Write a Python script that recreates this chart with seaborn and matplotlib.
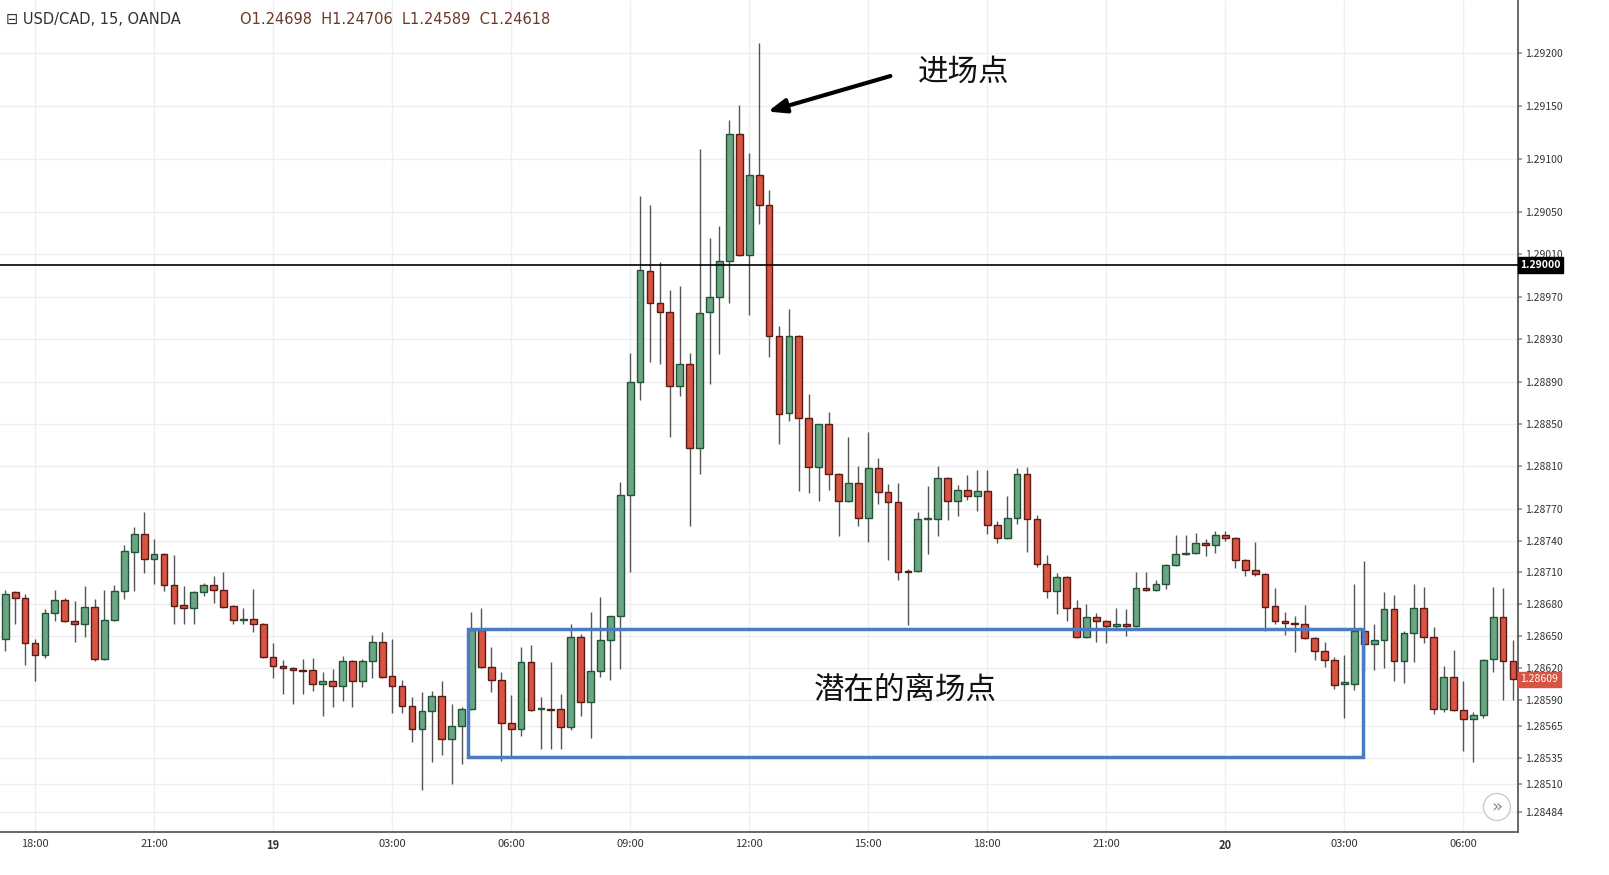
import matplotlib
matplotlib.use("Agg")
import matplotlib.pyplot as plt
import seaborn as sns
import numpy as np
from matplotlib.patches import Rectangle

opens = [1.28647,1.28691,1.28686,1.28643,1.28632,1.28672,1.28684,1.28664,1.28661,1.28677,
 1.28628,1.28665,1.28692,1.28729,1.28746,1.28723,1.28727,1.28698,1.28679,1.28676,
 1.28691,1.28698,1.28693,1.28678,1.28665,1.28666,1.28661,1.28630,1.28622,1.28620,
 1.28618,1.28618,1.28605,1.28607,1.28603,1.28626,1.28607,1.28626,1.28644,1.28612,
 1.28603,1.28584,1.28562,1.28579,1.28593,1.28553,1.28565,1.28581,1.28656,1.28621,
 1.28608,1.28568,1.28562,1.28625,1.28581,1.28581,1.28581,1.28564,1.28649,1.28588,
 1.28617,1.28646,1.28669,1.28783,1.28890,1.28994,1.28964,1.28956,1.28886,1.28907,
 1.28827,1.28956,1.28970,1.29004,1.29124,1.29009,1.29085,1.29057,1.28933,1.28860,
 1.28933,1.28856,1.28809,1.28850,1.28803,1.28777,1.28794,1.28761,1.28808,1.28786,
 1.28776,1.28711,1.28711,1.28760,1.28760,1.28799,1.28777,1.28788,1.28782,1.28787,
 1.28755,1.28742,1.28761,1.28803,1.28760,1.28718,1.28692,1.28706,1.28676,1.28649,
 1.28668,1.28664,1.28659,1.28661,1.28659,1.28695,1.28693,1.28699,1.28717,1.28727,
 1.28728,1.28738,1.28736,1.28745,1.28742,1.28722,1.28712,1.28708,1.28678,1.28664,
 1.28662,1.28661,1.28648,1.28636,1.28627,1.28605,1.28605,1.28655,1.28642,1.28646,
 1.28675,1.28626,1.28653,1.28676,1.28649,1.28581,1.28611,1.28580,1.28572,1.28575,
 1.28628,1.28668,1.28626]
highs = [1.28693,1.28692,1.28690,1.28647,1.28675,1.28693,1.28686,1.28683,1.28697,1.28685,
 1.28693,1.28698,1.28736,1.28753,1.28767,1.28741,1.28728,1.28726,1.28697,1.28692,
 1.28700,1.28707,1.28710,1.28679,1.28676,1.28694,1.28662,1.28643,1.28627,1.28621,
 1.28628,1.28629,1.28616,1.28619,1.28631,1.28627,1.28628,1.28651,1.28654,1.28647,
 1.28608,1.28592,1.28597,1.28598,1.28607,1.28586,1.28583,1.28673,1.28676,1.28640,
 1.28616,1.28594,1.28640,1.28641,1.28592,1.28625,1.28595,1.28661,1.28652,1.28673,
 1.28687,1.28669,1.28795,1.28917,1.29065,1.29057,1.29003,1.28976,1.28980,1.28917,
 1.29109,1.29025,1.29037,1.29137,1.29151,1.29106,1.29209,1.29071,1.28942,1.28958,
 1.28934,1.28878,1.28850,1.28861,1.28804,1.28838,1.28810,1.28842,1.28818,1.28793,
 1.28794,1.28713,1.28767,1.28791,1.28810,1.28800,1.28792,1.28802,1.28807,1.28807,
 1.28758,1.28782,1.28808,1.28809,1.28764,1.28726,1.28709,1.28707,1.28684,1.28680,
 1.28672,1.28665,1.28676,1.28675,1.28710,1.28710,1.28703,1.28718,1.28745,1.28745,
 1.28747,1.28741,1.28749,1.28749,1.28743,1.28723,1.28739,1.28709,1.28695,1.28673,
 1.28669,1.28679,1.28649,1.28644,1.28630,1.28632,1.28699,1.28721,1.28661,1.28691,
 1.28689,1.28655,1.28699,1.28696,1.28658,1.28622,1.28637,1.28607,1.28578,1.28628,
 1.28696,1.28695,1.28646]
lows = [1.28636,1.28661,1.28623,1.28607,1.28629,1.28664,1.28663,1.28644,1.28649,1.28626,
 1.28627,1.28664,1.28685,1.28692,1.28709,1.28699,1.28692,1.28661,1.28661,1.28661,
 1.28688,1.28681,1.28676,1.28661,1.28661,1.28654,1.28629,1.28610,1.28595,1.28586,
 1.28595,1.28598,1.28574,1.28583,1.28589,1.28583,1.28602,1.28610,1.28610,1.28577,
 1.28577,1.28550,1.28505,1.28531,1.28538,1.28510,1.28529,1.28580,1.28620,1.28597,
 1.28532,1.28536,1.28556,1.28579,1.28543,1.28543,1.28543,1.28561,1.28574,1.28554,
 1.28611,1.28608,1.28619,1.28710,1.28873,1.28908,1.28907,1.28838,1.28876,1.28754,
 1.28803,1.28888,1.28916,1.28964,1.29008,1.28953,1.29039,1.28913,1.28831,1.28853,
 1.28787,1.28785,1.28777,1.28788,1.28744,1.28776,1.28754,1.28739,1.28774,1.28722,
 1.28703,1.28660,1.28710,1.28727,1.28744,1.28759,1.28763,1.28778,1.28768,1.28746,
 1.28738,1.28741,1.28756,1.28729,1.28715,1.28686,1.28671,1.28664,1.28648,1.28648,
 1.28644,1.28643,1.28656,1.28650,1.28658,1.28692,1.28692,1.28694,1.28716,1.28726,
 1.28727,1.28725,1.28728,1.28740,1.28714,1.28707,1.28707,1.28655,1.28661,1.28651,
 1.28635,1.28647,1.28627,1.28621,1.28600,1.28573,1.28599,1.28618,1.28618,1.28620,
 1.28607,1.28606,1.28625,1.28643,1.28576,1.28578,1.28579,1.28541,1.28531,1.28573,
 1.28616,1.28590,1.28590]
closes = [1.28690,1.28686,1.28643,1.28632,1.28672,1.28684,1.28664,1.28661,1.28677,1.28628,
 1.28665,1.28692,1.28730,1.28746,1.28723,1.28727,1.28698,1.28678,1.28676,1.28691,
 1.28698,1.28693,1.28677,1.28665,1.28666,1.28661,1.28630,1.28622,1.28620,1.28618,
 1.28617,1.28605,1.28607,1.28603,1.28626,1.28607,1.28626,1.28644,1.28611,1.28603,
 1.28584,1.28562,1.28579,1.28593,1.28553,1.28565,1.28581,1.28656,1.28621,1.28608,
 1.28568,1.28562,1.28625,1.28580,1.28582,1.28580,1.28564,1.28649,1.28588,1.28617,
 1.28646,1.28669,1.28783,1.28890,1.28995,1.28964,1.28956,1.28886,1.28907,1.28827,
 1.28955,1.28970,1.29004,1.29124,1.29009,1.29085,1.29057,1.28933,1.28859,1.28933,
 1.28856,1.28809,1.28850,1.28803,1.28777,1.28794,1.28761,1.28808,1.28786,1.28776,
 1.28710,1.28710,1.28760,1.28761,1.28799,1.28777,1.28788,1.28782,1.28787,1.28755,
 1.28742,1.28761,1.28803,1.28760,1.28718,1.28692,1.28706,1.28676,1.28649,1.28668,
 1.28664,1.28659,1.28661,1.28659,1.28695,1.28693,1.28699,1.28717,1.28727,1.28728,
 1.28738,1.28736,1.28745,1.28742,1.28722,1.28712,1.28708,1.28677,1.28664,1.28662,
 1.28661,1.28648,1.28636,1.28627,1.28604,1.28606,1.28655,1.28642,1.28646,1.28675,
 1.28626,1.28653,1.28676,1.28649,1.28581,1.28611,1.28580,1.28572,1.28575,1.28627,
 1.28668,1.28626,1.28609]

time_ticks = [3, 15, 27, 39, 51, 63, 75, 87, 99, 111, 123, 135, 147]
time_labels = ["18:00", "21:00", "19", "03:00", "06:00", "09:00", "12:00", "15:00",
               "18:00", "21:00", "20", "03:00", "06:00"]
price_ticks = [1.29200, 1.29150, 1.29100, 1.29050, 1.29010, 1.28970, 1.28930, 1.28890,
               1.28850, 1.28810, 1.28770, 1.28740, 1.28710, 1.28680, 1.28650, 1.28620,
               1.28590, 1.28565, 1.28535, 1.28510, 1.28484]
level_line = 1.29000
last_price = closes[-1]
box_x = (46.6, 136.9)
box_y = (1.28536, 1.28657)

sns.set_theme(style="white")
plt.rcParams['font.family'] = ['Noto Sans CJK SC', 'DejaVu Sans']

fig = plt.figure(figsize=(16.09, 8.75), dpi=100)
ax = fig.add_axes([0, 43/875, 1518/1609, 832/875])

idx = np.arange(len(opens))
o = np.array(opens); c = np.array(closes); h = np.array(highs); l = np.array(lows)
up = c >= o
green, green_e = "#6BA583", "#225437"
red, red_e = "#D75442", "#5B1A13"

for t in time_ticks:
    ax.axvline(t, color="#efefef", lw=1, zorder=0)
for p in price_ticks:
    ax.axhline(p, color="#efefef", lw=1, zorder=0)

ax.vlines(idx, l, h, color="#555555", lw=1, zorder=2)
bottoms = np.minimum(o, c)
heights = np.maximum(np.abs(c - o), 0.000012)
ax.bar(idx[up], heights[up], bottom=bottoms[up], width=0.68, color=green,
       edgecolor=green_e, lw=1, zorder=3)
ax.bar(idx[~up], heights[~up], bottom=bottoms[~up], width=0.68, color=red,
       edgecolor=red_e, lw=1, zorder=3)

ax.axhline(level_line, color="black", lw=1.2, zorder=4)

ax.add_patch(Rectangle((box_x[0], box_y[0]), box_x[1] - box_x[0], box_y[1] - box_y[0],
                       fill=False, edgecolor="#4A7BC4", lw=2.5, zorder=5))

ax.set_xlim(-0.53, 152.5)
ax.set_ylim(1.28465, 1.29250)
ax.set_xticks(time_ticks)
ax.set_xticklabels(time_labels, fontsize=8, color="#333333")
for lab, txt in zip(ax.get_xticklabels(), time_labels):
    if ":" not in txt:
        lab.set_fontweight("bold")
ax.yaxis.tick_right()
ax.set_yticks(price_ticks)
ax.set_yticklabels([f"{p:.5f}" for p in price_ticks], fontsize=7.5, color="#333333")
ax.tick_params(axis="both", length=3, color="#999999", pad=2)
for s in ["top", "left"]:
    ax.spines[s].set_visible(False)
ax.spines["right"].set_color("#555555")
ax.spines["bottom"].set_color("#555555")

ytr = ax.get_yaxis_transform()
ax.text(1.0015, level_line, "1.29000", transform=ytr, fontsize=7.5, color="white",
        fontweight="bold", va="center", ha="left", zorder=6,
        bbox=dict(boxstyle="square,pad=0.25", fc="black", ec="black"))
ax.text(1.0015, last_price, f"{last_price:.5f}", transform=ytr, fontsize=7.5, color="white",
        va="center", ha="left", zorder=6,
        bbox=dict(boxstyle="square,pad=0.25", fc="#D75442", ec="#D75442"))

ax.annotate("", xy=(76.6, 1.29144), xytext=(89.5, 1.29179),
            arrowprops=dict(arrowstyle="-|>,head_length=0.9,head_width=0.35", color="black",
                            lw=3), zorder=7)
ax.text(92.0, 1.29182, "进场点", fontsize=22, va="center", ha="left", color="#111111")
ax.text(90.7, 1.28599, "潜在的离场点", fontsize=22, va="center", ha="center", color="#111111")

fig.text(6/1609, 1 - 19/875, "⊟ USD/CAD, 15, OANDA", fontsize=10.5, color="#333333",
         va="center", ha="left", family=['DejaVu Sans'])
fig.text(240/1609, 1 - 19/875, "O1.24698  H1.24706  L1.24589  C1.24618", fontsize=10.5,
         color="#6b3a2a", va="center", ha="left", family=['DejaVu Sans'])
fig.text(1497/1609, 1 - 807/875, "»", fontsize=13, color="#888888", va="center", ha="center",
         family=['DejaVu Sans'],
         bbox=dict(boxstyle="circle,pad=0.25", fc="white", ec="#cccccc"))

fig.savefig("out.png", dpi=100)
